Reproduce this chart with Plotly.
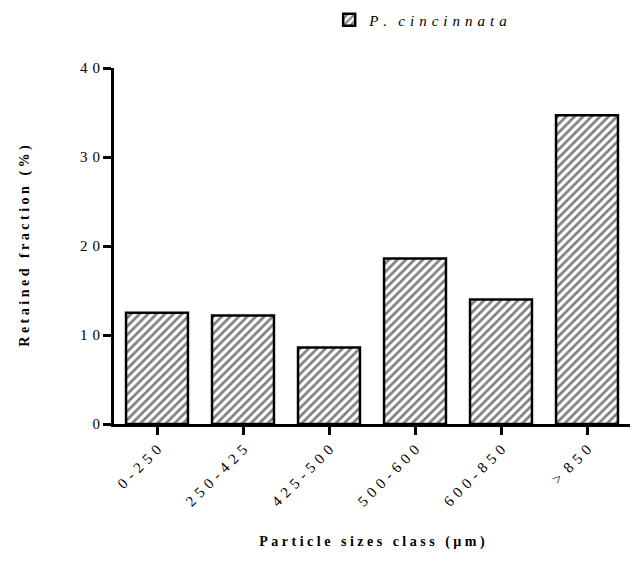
import plotly.graph_objects as go

categories = ["0-250", "250-425", "425-500", "500-600", "600-850", "> 850"]
values = [12.5, 12.2, 8.6, 18.6, 14.0, 34.7]
series_name = "P. cincinnata"
y_ticks = [0, 10, 20, 30, 40]
x_title = "Particle sizes class (µm)"
y_title = "Retained fraction (%)"

FONT = "Liberation Serif, Times New Roman, serif"
NB = "\u00a0"
HAIR = "\u200a"


def spaced(text, gap=NB, word_gap=NB * 3):
    # mimic the wide letter spacing of the original figure
    words = text.split(" ")
    return word_gap.join(gap.join(list(w)) for w in words)


x_labels = [spaced(c, NB + HAIR, NB * 2) for c in categories]
y_labels = [spaced(str(v), NB + HAIR) for v in y_ticks]

fig = go.Figure()
fig.add_trace(go.Bar(
    x=categories,
    y=values,
    name=spaced(series_name, NB + HAIR, NB * 3),
    marker=dict(
        color="white",
        line=dict(color="black", width=2.5),
        pattern=dict(shape="/", fgcolor="black", bgcolor="white", size=6, solidity=0.45),
    ),
    showlegend=True,
))

fig.update_layout(
    width=638, height=568,
    margin=dict(l=114, r=8, t=68, b=144, autoexpand=False),
    plot_bgcolor="white", paper_bgcolor="white",
    bargap=0.28,
    font=dict(family=FONT, size=14, color="black"),
    showlegend=True,
    legend=dict(
        x=0.417, y=1.135, xanchor="left", yanchor="middle",
        orientation="h",
        font=dict(family=FONT, size=15, style="italic"),
        bgcolor="rgba(0,0,0,0)",
    ),
    xaxis=dict(
        showline=True, linecolor="black", linewidth=3,
        ticks="outside", ticklen=8, tickwidth=3, tickcolor="black",
        tickangle=-45,
        tickmode="array", tickvals=categories, ticktext=x_labels,
        tickfont=dict(family=FONT, size=15),
        title=dict(text="<b>" + spaced(x_title) + "</b>", font=dict(family=FONT, size=14), standoff=28),
        showgrid=False, automargin=False,
    ),
    yaxis=dict(
        range=[0, 40],
        tickmode="array", tickvals=y_ticks, ticktext=y_labels,
        showline=True, linecolor="black", linewidth=3,
        ticks="outside", ticklen=8, tickwidth=3, tickcolor="black",
        tickfont=dict(family=FONT, size=15),
        title=dict(text="<b>" + spaced(y_title) + "</b>", font=dict(family=FONT, size=14), standoff=48),
        showgrid=False, zeroline=False, automargin=False,
    ),
)

fig.write_html("out.html")
